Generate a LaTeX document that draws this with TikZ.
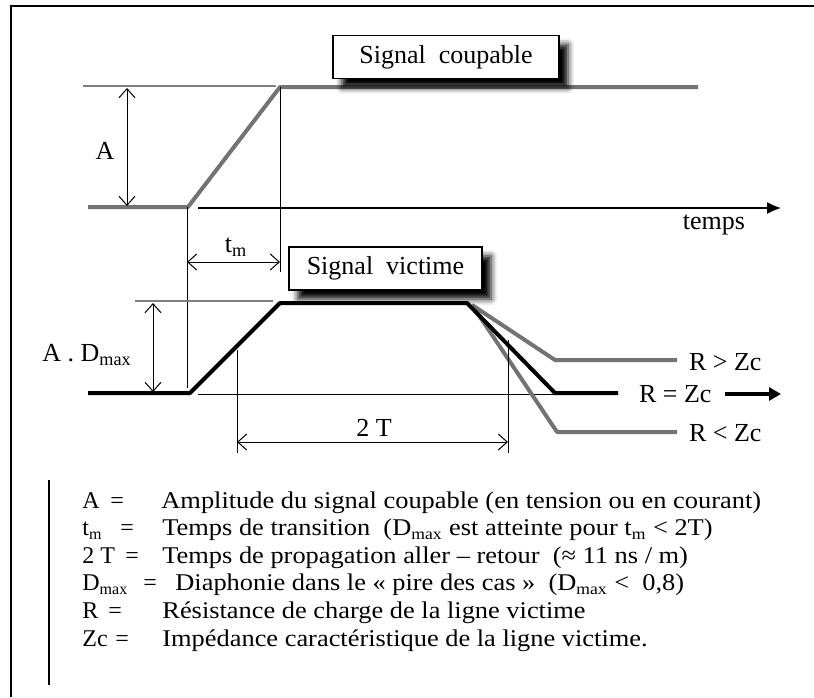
\documentclass[tikz,border=0pt]{standalone}
\usepackage{fontspec}
\setmainfont{Liberation Serif}
\newfontfamily\legendfont[FakeStretch=1.1]{Liberation Serif}
\usetikzlibrary{arrows.meta, positioning, shadows.blur}

\tikzset{
  sigbox/.style={draw=black, line width=0.8pt, fill=white, inner sep=0pt,
    blur shadow={shadow xshift=4.5pt, shadow yshift=-4.5pt, shadow blur radius=3pt, shadow opacity=100}},
  dimline/.style={line width=0.5pt,
    {Straight Barb[length=4.5pt,width=8pt]}-{Straight Barb[length=4.5pt,width=8pt]}},
  guide/.style={line width=0.45pt, black},
  refline/.style={line width=0.7pt, black!50},
  culprit/.style={line width=2pt, black!55, line join=round},
  victim/.style={line width=2pt, black, line join=round},
  legkey/.style={anchor=base west, inner sep=0pt, font=\fontsize{12}{14}\selectfont},
  legtxt/.style={anchor=base west, inner sep=0pt, font=\fontsize{12}{14}\legendfont},
}

\begin{document}
\begin{tikzpicture}[x=0.5pt, y=-0.5pt, font=\fontsize{13}{15}\selectfont]
  \useasboundingbox (0,0) rectangle (814,697);
  % frame
  \draw[line width=1.4pt] (11,697) -- (11,6) -- (814,6);
  % ---------- culprit signal ----------
  \coordinate (c0) at (88,207);
  \coordinate (c1) at (188,207);
  \coordinate (c2) at (280,87);
  \coordinate (c3) at (698,87);
  \draw[refline] (83,86) -- (276,86);
  \draw[culprit] (c0) -- (c1) -- (c2) -- (c3);
  \node[sigbox, minimum width=113pt, minimum height=21.5pt] (boxC) at (446,57) {Signal~~coupable};
  % amplitude A
  \coordinate (aTop) at (127,88);
  \coordinate (aBot) at (127,206);
  \draw[dimline] (aTop) -- (aBot);
  \node (labA) at (105,151) {A};
  % time axis
  \coordinate (t0) at (198,208);
  \coordinate (t1) at (781,208);
  \draw[line width=0.6pt, -{Latex[length=7pt,width=6pt]}] (t0) -- (t1);
  \node (temps) at (714,225) {temps};
  % ---------- transition time ----------
  \draw[guide] (c2) -- (280,272);
  \draw[guide] (187,207) -- (187,388);
  \draw[dimline] (187,262) -- (280,262);
  \node (labTm) at (236,247) {t\textsubscript{m}};
  % ---------- victim signal ----------
  \coordinate (v0) at (88,393);
  \coordinate (v1) at (190,393);
  \coordinate (v2) at (280,303);
  \coordinate (v3) at (467,303);
  \coordinate (v4) at (555,393);
  \coordinate (v5) at (618,393);
  \draw[refline] (135,301) -- (273,301);
  \draw[guide] (198,394) -- (555,394);
  % load cases, grey
  \draw[culprit] (472,305) -- (555,360) -- (677,360);
  \draw[culprit] (472,305) -- (557,432) -- (677,432);
  \draw[victim] (v0) -- (v1) -- (v2) -- (v3) -- (v4) -- (v5);
  \node[sigbox, minimum width=96.5pt, minimum height=21.5pt] (boxV) at (385.5,268.5) {Signal~~victime};
  \node[anchor=west] (rGt) at (682,362) {R > Zc};
  \node[anchor=west] (rEq) at (632,394) {R = Zc};
  \node[anchor=west] (rLt) at (682,433) {R < Zc};
  \draw[line width=2.2pt, -{Triangle[length=6pt,width=6.5pt]}] (725,394) -- (781,394);
  % crosstalk amplitude
  \draw[dimline] (153,303) -- (153,392);
  \node (labAD) at (87,355) {A . D\textsubscript{max}};
  % round trip 2T
  \draw[guide] (237,350) -- (237,453);
  \draw[guide] (508,340) -- (508,453);
  \draw[dimline] (237,442) -- (508,442);
  \node (lab2T) at (374,428) {2 T};
  % ---------- legend ----------
  \draw[line width=0.8pt] (49,480) -- (49,685);
  \foreach \k/\lab/\eqx/\dx/\txt in {
      0/{A}/110/161/{Amplitude du signal coupable (en tension ou en courant)},
      1/{t\textsubscript{m}}/120/162/{Temps de transition~ (D\textsubscript{max} est atteinte pour t\textsubscript{m} < 2T)},
      2/{2 T}/125/162/{Temps de propagation aller – retour~ (≈ 11 ns / m)},
      3/{D\textsubscript{max}}/143/175/{Diaphonie dans le « pire des cas »~ (D\textsubscript{max} <~ 0,8)},
      4/{R}/108/162/{Résistance de charge de la ligne victime},
      5/{Zc}/115/162/{Impédance caractéristique de la ligne victime.}}
  {
    \node[legkey] (key-\k) at (82,508+27.6*\k) {\lab};
    \node[legkey] (eq-\k) at (\eqx,508+27.6*\k) {=};
    \node[legtxt] (txt-\k) at (\dx,508+27.6*\k) {\txt};
  }
\end{tikzpicture}
\end{document}
